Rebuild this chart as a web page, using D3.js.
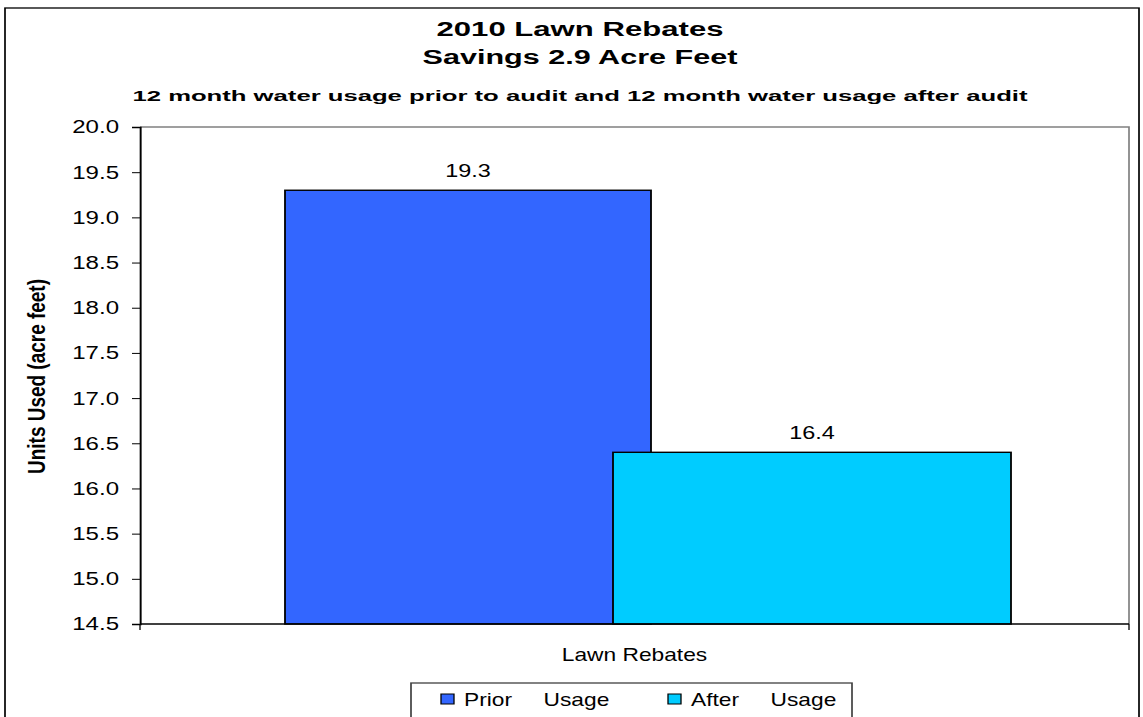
<!DOCTYPE html>
<html lang="en">
<head>
  <meta charset="UTF-8">
  <title>2010 Lawn Rebates</title>
  <script src="https://cdn.jsdelivr.net/npm/d3@7"></script>
  <style>
    html, body { margin: 0; padding: 0; background: #fff; }
    svg { display: block; font-family: "Liberation Sans", Arial, sans-serif; }
  </style>
</head>
<body>
  <svg id="chart"></svg>
  <script>
    // data
    const categories = ['Lawn Rebates'];
    const series = ['Prior     Usage', 'After     Usage'];
    const values = [19.3, 16.4];
    const colors = ['#3366FF', '#00CCFF'];
    const yTicks = d3.range(14.5, 20.01, 0.5);

    const width = 1143, height = 717;
    // the original picture is stretched sideways, so draw in a narrower box
    const sx = 1.3;
    const vw = width / sx;
    const X = px => px / sx;

    const svg = d3.select('#chart')
      .attr('width', width)
      .attr('height', height)
      .attr('viewBox', `0 0 ${vw} ${height}`)
      .attr('preserveAspectRatio', 'none');

    // outer frame
    svg.append('rect')
      .attr('x', X(5)).attr('y', 8)
      .attr('width', X(1139) - X(5)).attr('height', 760)
      .attr('fill', 'none').attr('stroke', '#000').attr('stroke-width', 1.3);

    // titles (widths follow the stretched original)
    const cx = X(580);
    const titles = [
      { text: '2010 Lawn Rebates', y: 36, size: 21, len: 287 },
      { text: 'Savings 2.9 Acre Feet', y: 64, size: 21, len: 315 },
      { text: '12 month water usage prior to audit and 12 month water usage after audit', y: 101, size: 15, len: 895 }
    ];
    svg.append('g').selectAll('text')
      .data(titles)
      .join('text')
      .attr('x', cx).attr('y', d => d.y)
      .attr('text-anchor', 'middle').attr('font-weight', 'bold')
      .attr('font-size', d => d.size)
      .attr('textLength', d => X(d.len))
      .attr('lengthAdjust', 'spacingAndGlyphs')
      .text(d => d.text);

    const plot = { left: X(140), right: X(1129), top: 127, bottom: 624 };

    const y = d3.scaleLinear().domain([14.5, 20]).range([plot.bottom, plot.top]);
    const x = d3.scaleBand().domain(categories).range([plot.left, plot.right]);

    // plot border: grey top/right
    svg.append('path')
      .attr('d', `M${plot.left},${plot.top}H${plot.right}V${plot.bottom}`)
      .attr('fill', 'none').attr('stroke', '#808080').attr('stroke-width', 1.3);

    // y axis
    const yAxis = svg.append('g')
      .attr('transform', `translate(${plot.left},0)`)
      .call(d3.axisLeft(y).tickValues(yTicks).tickFormat(d3.format('.1f'))
        .tickSize(X(8)).tickPadding(X(13)));
    yAxis.select('.domain').attr('stroke', '#000').attr('stroke-width', 1.5);
    yAxis.selectAll('.tick line').attr('stroke', '#000');
    yAxis.selectAll('.tick text')
      .attr('font-size', 18.5).attr('fill', '#000')
      .attr('font-family', '"Liberation Sans", Arial, sans-serif');

    svg.append('text')
      .attr('transform', `translate(${X(45)},${(plot.top + plot.bottom) / 2 + 1}) rotate(-90)`)
      .attr('text-anchor', 'middle').attr('font-weight', 'bold').attr('font-size', 18.5)
      .attr('textLength', 195).attr('lengthAdjust', 'spacingAndGlyphs')
      .text('Units Used (acre feet)');

    // bars: one band per series inside the category, second overlapping the first
    const inner = d3.scaleBand().domain(series)
      .range([x(categories[0]) + X(145), x(categories[0]) + x.bandwidth() - X(118)]);
    const overlap = X(35);
    const barX = i => inner(series[i]) - (i > 0 ? overlap : 0);
    const barW = i => inner.bandwidth() + (i > 0 ? overlap : X(3));

    svg.append('g').selectAll('rect')
      .data(values)
      .join('rect')
      .attr('x', (d, i) => barX(i))
      .attr('y', d => y(d))
      .attr('width', (d, i) => barW(i))
      .attr('height', d => y(14.5) - y(d))
      .attr('fill', (d, i) => colors[i])
      .attr('stroke', '#000').attr('stroke-width', 1.4);

    svg.append('g').selectAll('text')
      .data(values)
      .join('text')
      .attr('x', (d, i) => barX(i) + barW(i) / 2)
      .attr('y', d => y(d) - 13)
      .attr('text-anchor', 'middle').attr('font-size', 18)
      .text(d => d.toFixed(1));

    // x axis
    svg.append('line')
      .attr('x1', plot.left).attr('x2', plot.right)
      .attr('y1', plot.bottom).attr('y2', plot.bottom)
      .attr('stroke', '#000').attr('stroke-width', 1.4);
    svg.append('g').selectAll('line')
      .data([x.range()[0], x.range()[1]])
      .join('line')
      .attr('x1', d => d).attr('x2', d => d)
      .attr('y1', plot.bottom).attr('y2', plot.bottom + 6)
      .attr('stroke', '#000');
    svg.append('g').selectAll('text')
      .data(categories)
      .join('text')
      .attr('x', d => x(d) + x.bandwidth() / 2)
      .attr('y', 661)
      .attr('text-anchor', 'middle').attr('font-size', 17.5)
      .text(d => d);

    // legend
    const lg = svg.append('g');
    lg.append('rect')
      .attr('x', X(411)).attr('y', 683)
      .attr('width', X(852) - X(411)).attr('height', 60)
      .attr('fill', '#fff').attr('stroke', '#404040').attr('stroke-width', 1.3);
    const legendX = [X(441), X(668)];
    series.forEach((s, i) => {
      lg.append('rect')
        .attr('x', legendX[i]).attr('y', 694)
        .attr('width', X(13)).attr('height', 10)
        .attr('fill', colors[i]).attr('stroke', '#000').attr('stroke-width', 1);
      lg.append('text')
        .attr('x', legendX[i] + X(23)).attr('y', 706)
        .attr('font-size', 17.5).style('white-space', 'pre')
        .text(s);
    });
  </script>
</body>
</html>
